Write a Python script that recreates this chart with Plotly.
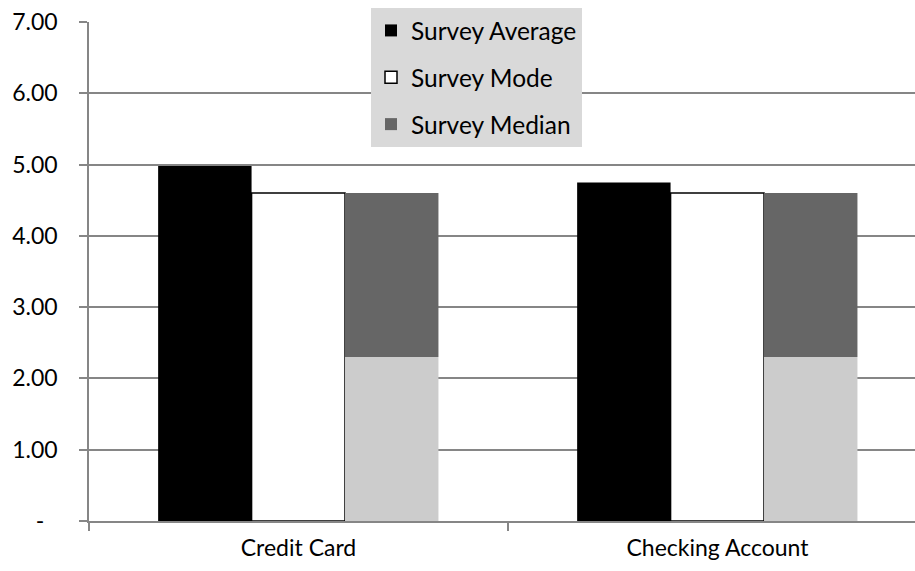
import plotly.graph_objects as go

# Survey results per account type
categories = ["Credit Card", "Checking Account"]
survey_average = [4.98, 4.75]
survey_mode = [4.60, 4.60]
survey_median = [4.60, 4.60]

y_tick_values = [0, 1, 2, 3, 4, 5, 6, 7]
y_tick_labels = ["-\u2007", "1.00", "2.00", "3.00", "4.00", "5.00", "6.00", "7.00"]

FONT = "Lato, Carlito, Calibri, sans-serif"
AXIS_GRAY = "#868686"
BAR_W = 0.223

fig = go.Figure()

fig.add_trace(go.Bar(
    x=categories, y=survey_average, name="Survey Average",
    width=BAR_W, offset=-0.335,
    marker=dict(color="#000000", line=dict(width=0)),
    legendgroup="avg",
))
fig.add_trace(go.Bar(
    x=categories, y=survey_mode, name="Survey Mode",
    width=BAR_W, offset=-0.112,
    marker=dict(color="#FFFFFF", line=dict(color="#000000", width=1.5)),
    legendgroup="mode",
))
# Median bar is shaded in two tones: light lower half, dark upper half
median_half = [v / 2 for v in survey_median]
fig.add_trace(go.Bar(
    x=categories, y=median_half, name="Survey Median",
    width=BAR_W, offset=0.111,
    marker=dict(color="#CCCCCC", line=dict(width=0)),
    legendgroup="median", showlegend=False,
))
fig.add_trace(go.Bar(
    x=categories, y=median_half, base=median_half, name="Survey Median",
    width=BAR_W, offset=0.111,
    marker=dict(color="#666666", line=dict(width=0)),
    legendgroup="median",
))

fig.update_layout(
    width=915, height=571,
    margin=dict(l=89, r=0, t=22, b=50),
    paper_bgcolor="white", plot_bgcolor="white",
    barmode="overlay",
    font=dict(family=FONT, size=23, color="#000000"),
    legend=dict(
        x=(371 - 89) / 826, y=(521 - 8) / 499,
        xanchor="left", yanchor="top",
        bgcolor="#D9D9D9", borderwidth=0,
        traceorder="grouped", tracegroupgap=12,
        font=dict(family=FONT, size=24.5, color="#000000"),
        itemwidth=30,
    ),
    xaxis=dict(
        type="category",
        range=[-0.5, 1.5 - 12 / 419],
        showgrid=False, zeroline=False,
        showline=True, linecolor=AXIS_GRAY, linewidth=1.5,
        ticks="outside", tickson="boundaries", ticklen=8,
        tickcolor=AXIS_GRAY, tickwidth=1.5,
        ticklabelstandoff=6,
        tickfont=dict(family=FONT, size=23),
    ),
    yaxis=dict(
        range=[0, 7],
        tickvals=y_tick_values, ticktext=y_tick_labels,
        showgrid=True, gridcolor=AXIS_GRAY, gridwidth=1.5,
        zeroline=False,
        showline=True, linecolor=AXIS_GRAY, linewidth=1.5,
        ticks="outside", ticklen=8, tickcolor=AXIS_GRAY, tickwidth=1.5,
        ticklabelstandoff=17,
        tickfont=dict(family=FONT, size=23),
    ),
)

fig.write_html("out.html")
